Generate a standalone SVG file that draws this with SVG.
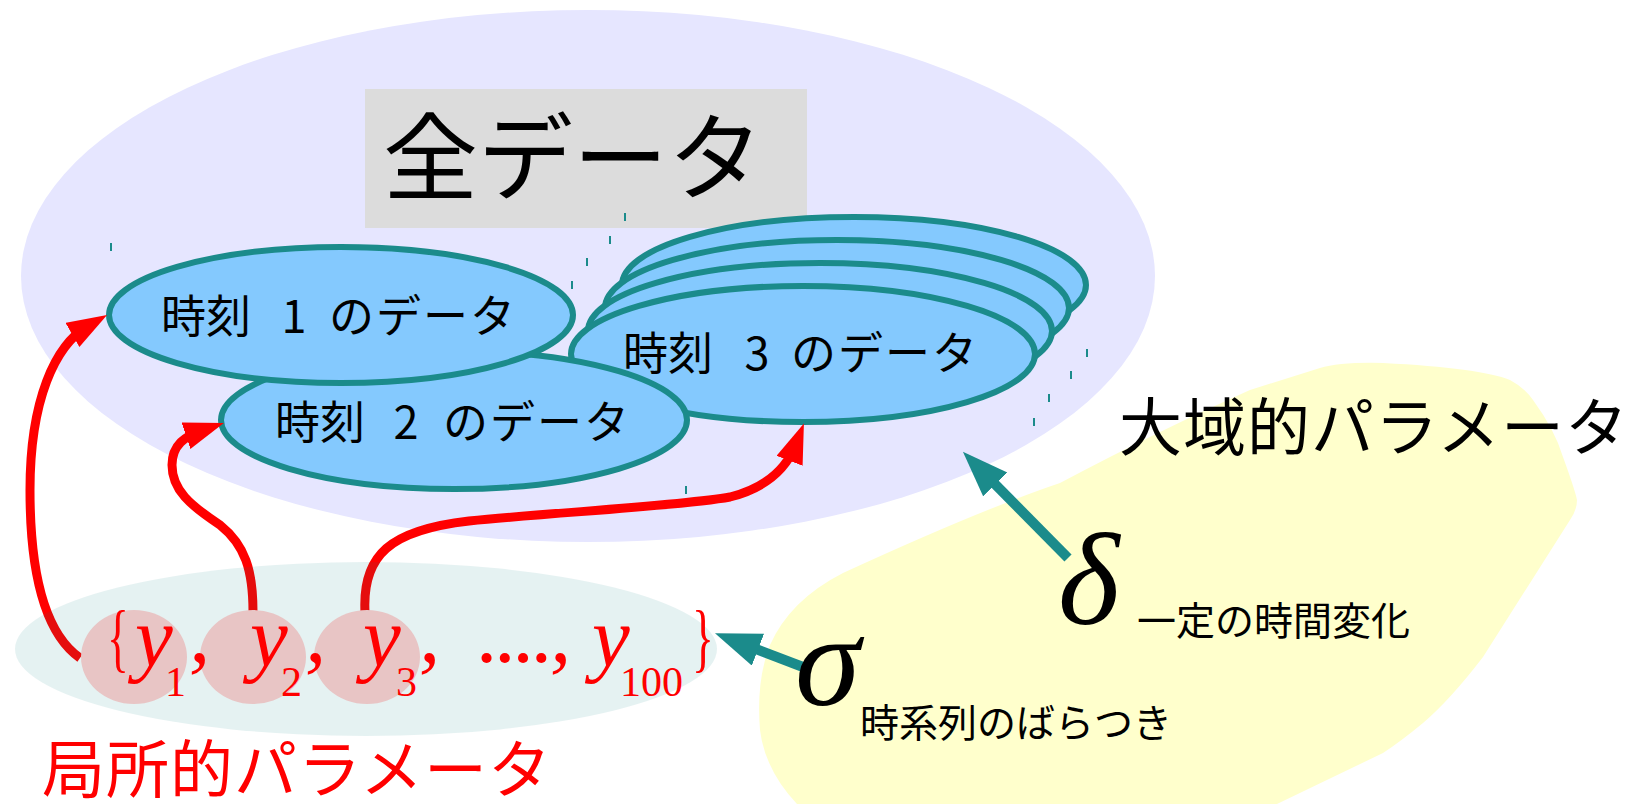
<svg xmlns="http://www.w3.org/2000/svg" width="1635" height="804" viewBox="0 0 1635 804">
<style>
.jp{font-family:"Noto Sans CJK JP","Noto Sans CJK SC",sans-serif;}
.lbl{font-size:45px;fill:#000;}
.big{font-size:63px;letter-spacing:1px;}
.sm{font-size:39px;fill:#000;}
.ser{font-family:"Liberation Serif","Times New Roman",serif;fill:#f00;}
.it{font-style:italic;}
.ymain{font-size:85px;}
.sub{font-size:42px;}
.br{font-size:76px;}
.greek{font-family:"Liberation Serif","Times New Roman",serif;font-style:italic;fill:#000;font-size:132px;}
.tE{fill:#84c9fe;stroke:#1b8b8b;stroke-width:6;}
.red{fill:none;stroke:#f00;stroke-width:9;}
.teal{fill:none;stroke:#1b8b8b;stroke-width:10;}
.tick{fill:#1b8b8b;}
.pink{fill:#e8c5c5;}
</style>
<defs>
<marker id="ar" markerUnits="userSpaceOnUse" markerWidth="44" markerHeight="32" refX="18" refY="14" orient="auto"><path d="M0,0 L40,14 L0,28 Z" fill="#f00"/></marker>
<marker id="at" markerUnits="userSpaceOnUse" markerWidth="50" markerHeight="40" refX="16" refY="17" orient="auto"><path d="M0,0 L46,17 L0,34 Z" fill="#1b8b8b"/></marker>
</defs>
<rect width="1635" height="804" fill="#fff"/>
<g id="global-region">
<path d="M 1250 390 L 1320 368 Q 1340 362 1383 363 Q 1480 368 1510 380 Q 1525 388 1533 400 Q 1555 430 1563 457 Q 1575 490 1577 500 Q 1577 510 1570 520 L 1483 657 Q 1450 700 1423 723 Q 1400 742 1383 753 L 1277 804 L 797 804 Q 765 770 760 730 Q 756 680 770 645 Q 790 600 843 573 Q 980 510 1060 483 Q 1160 430 1250 390 Z" fill="#ffffcc"/>
</g>
<g id="all-data">
<ellipse cx="588" cy="276" rx="567" ry="266" fill="#e6e6ff"/>
<rect x="365" y="89" width="442" height="139" fill="#dcdcdc"/>
<text class="jp" x="383" y="193" font-size="95">全データ</text>
</g>
<g id="ticks">
<rect class="tick" x="110" y="243" width="2" height="8"/>
<rect class="tick" x="624" y="213" width="2" height="8"/>
<rect class="tick" x="609" y="236" width="2" height="8"/>
<rect class="tick" x="586" y="258" width="2" height="8"/>
<rect class="tick" x="571" y="281" width="2" height="8"/>
<rect class="tick" x="571" y="379" width="2" height="8"/>
<rect class="tick" x="685" y="486" width="2" height="8"/>
<rect class="tick" x="1086" y="349" width="2" height="8"/>
<rect class="tick" x="1070" y="371" width="2" height="8"/>
<rect class="tick" x="1048" y="394" width="2" height="8"/>
<rect class="tick" x="1033" y="418" width="2" height="8"/>
</g>
<g id="time3">
<ellipse class="tE" cx="854" cy="285" rx="232" ry="68"/>
<ellipse class="tE" cx="837" cy="308" rx="232" ry="68"/>
<ellipse class="tE" cx="820" cy="331" rx="232" ry="68"/>
<ellipse class="tE" cx="803" cy="354" rx="232" ry="68"/>
<text class="jp lbl" y="370"><tspan x="623">時刻</tspan><tspan x="757" text-anchor="middle">3</tspan><tspan x="791" letter-spacing="2">のデータ</tspan></text>
</g>
<g id="time2">
<ellipse class="tE" cx="454" cy="420" rx="233" ry="69"/>
<text class="jp lbl" y="439"><tspan x="275">時刻</tspan><tspan x="406" text-anchor="middle">2</tspan><tspan x="443" letter-spacing="2">のデータ</tspan></text>
</g>
<g id="time1">
<ellipse class="tE" cx="341" cy="315" rx="232" ry="68"/>
<text class="jp lbl" y="333"><tspan x="161">時刻</tspan><tspan x="294" text-anchor="middle">1</tspan><tspan x="329" letter-spacing="2">のデータ</tspan></text>
</g>
<g id="connectors">
<path class="red" d="M 80 658 C 40 630, 30 560, 30 490 C 30 400, 55 345, 88 326" marker-end="url(#ar)"/>
<path class="red" d="M 253 612 C 253 570, 245 545, 220 525 C 190 505, 172 490, 172 465 C 172 445, 185 436, 203 430" marker-end="url(#ar)"/>
<path class="red" d="M 365 612 C 362 555, 390 530, 469 521 C 560 512, 680 506, 730 497 C 765 488, 786 470, 796 444" marker-end="url(#ar)"/>
</g>
<g id="local-region">
<ellipse cx="366" cy="649" rx="351" ry="87" fill="#008080" fill-opacity="0.1"/>
<ellipse class="pink" cx="134" cy="657" rx="53" ry="47"/>
<ellipse class="pink" cx="253" cy="657" rx="53" ry="47"/>
<ellipse class="pink" cx="367" cy="657" rx="53" ry="47"/>
</g>
<g id="set-notation">
<text class="ser br" transform="translate(107,663) scale(0.6,1)">{</text>
<text class="ser it ymain" x="135" y="666">y</text>
<text class="ser sub" x="165" y="696">1</text>
<text class="ser it ymain" x="189" y="662">,</text>
<text class="ser it ymain" x="250" y="666">y</text>
<text class="ser sub" x="281" y="696">2</text>
<text class="ser it ymain" x="305" y="662">,</text>
<text class="ser it ymain" x="363" y="666">y</text>
<text class="ser sub" x="396" y="696">3</text>
<text class="ser it ymain" x="419" y="662">,</text>
<text class="ser it ymain" x="478" y="662" letter-spacing="-3">....</text>
<text class="ser it ymain" x="550" y="662">,</text>
<text class="ser it ymain" x="592" y="666">y</text>
<text class="ser sub" x="620" y="696">100</text>
<text class="ser br" transform="translate(692,663) scale(0.6,1)">}</text>
</g>
<g id="teal-arrows">
<path class="teal" d="M 1068 558 L 984 473" marker-end="url(#at)"/>
<path class="teal" d="M 803 667 L 743 644" marker-end="url(#at)"/>
</g>
<g id="labels">
<text class="jp big" x="1119" y="450" fill="#000">大域的パラメータ</text>
<text class="jp big" x="42" y="792" fill="#f00">局所的パラメータ</text>
<text class="greek" x="1058" y="624">δ</text>
<text class="jp sm" x="1137" y="635">一定の時間変化</text>
<text class="greek" x="795" y="705">σ</text>
<text class="jp sm" x="860" y="737">時系列のばらつき</text>
</g>
</svg>
